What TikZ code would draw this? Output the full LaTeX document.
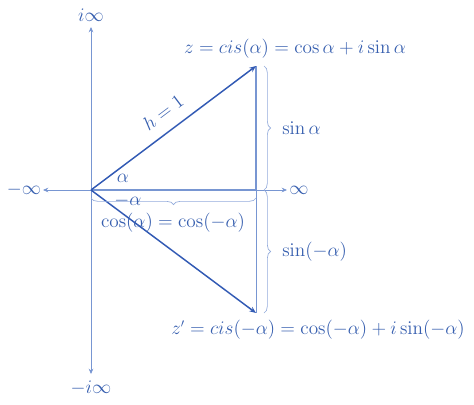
\documentclass[tikz,border=0pt]{standalone}
\usepackage{amsmath}
\usepackage{tikz}
\usetikzlibrary{arrows.meta,decorations.pathreplacing}

\definecolor{axisblue}{RGB}{120,150,210}
\definecolor{vecblue}{RGB}{50,90,180}
\definecolor{txtblue}{RGB}{55,95,175}

\tikzset{
  axisline/.style={color=axisblue, line width=0.6pt, -{Stealth[length=4pt,width=3.5pt]}},
  vecline/.style={color=vecblue, line width=1.1pt, -{Stealth[length=5pt,width=4pt]}},
  sideline/.style={color=axisblue, line width=1.0pt},
  thinside/.style={color=axisblue, line width=0.6pt},
  bracket/.style={color=axisblue!80, line width=0.5pt, decorate, decoration={brace, amplitude=5pt}},
  lbl/.style={color=txtblue, font=\fontsize{13.5}{16}\selectfont, inner sep=0.75pt}
}

\begin{document}
\begin{tikzpicture}[x=0.75pt,y=0.75pt,yscale=-1,xscale=1]
	\useasboundingbox (0,0) rectangle (474,404);
	
	% points
	\coordinate (O) at (91,190);
	\coordinate (Z) at (256,66);
	\coordinate (X) at (256,190);
	\coordinate (Zp) at (256,313);
	
	% Text Node: axis ends
	\node [lbl] (posIm) at (91,15) {$i\infty$};
	\node [lbl] (negIm) at (91,388) {$-i\infty$};
	\node [lbl] (negRe) at (24,190) {$-\infty$};
	\node [lbl] (posRe) at (299,190) {$\infty$};
	
	% axes
	\coordinate (imTop) at (91,27);
	\coordinate (imBot) at (91,374);
	\coordinate (reLeft) at (43,190);
	\coordinate (reRight) at (287,190);
	\draw [axisline] (O) -- (imTop);
	\draw [axisline] (O) -- (imBot);
	\draw [axisline] (O) -- (reLeft);
	\draw [axisline] (O) -- (reRight);
	
	% triangle sides
	\draw [sideline] (O) -- (X);
	\draw [sideline] (X) -- (Z);
	\draw [thinside] (X) -- (Zp);
	
	% vectors
	\draw [vecline] (O) -- (Z);
	\draw [vecline] (O) -- (Zp);
	\node [lbl, rotate=37] (hyp) at (163,112) {$h=1$};
	
	% braces
	\draw [bracket] (264,66) -- (264,190);
	\draw [bracket] (264,190) -- (264,313);
	\draw [bracket] (256,198) -- (91,198);
	\node [lbl, anchor=west] (sinA) at (281,128) {$\sin\alpha$};
	\node [lbl, anchor=west] (sinNegA) at (281,252) {$\sin(-\alpha)$};
	\node [lbl] (cosA) at (173,223) {$\cos(\alpha)=\cos(-\alpha)$};
	
	% Text Node: angles
	\node [lbl] (alpha) at (123,178) {$\alpha$};
	\node [lbl] (negAlpha) at (128,201) {$-\alpha$};
	
	% Text Node: points
	\node [lbl] (zLbl) at (295,49) {$z=cis(\alpha)=\cos\alpha+i\sin\alpha$};
	\node [lbl] (zpLbl) at (318,330) {$z'=cis(-\alpha)=\cos(-\alpha)+i\sin(-\alpha)$};
\end{tikzpicture}
\end{document}
